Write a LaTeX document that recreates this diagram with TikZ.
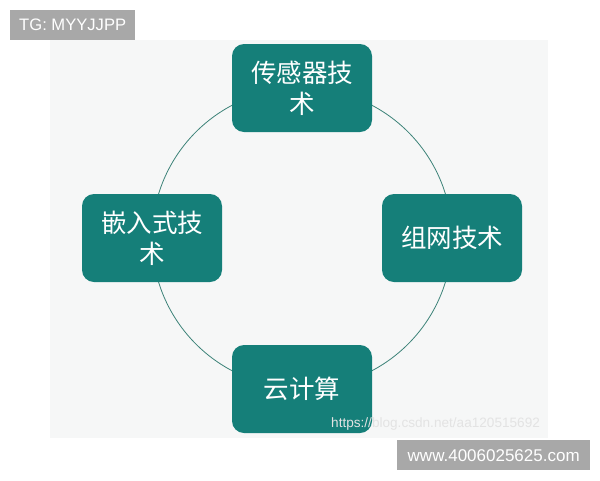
\documentclass[tikz,border=0pt]{standalone}
\usepackage{fontspec}
\setmainfont{Liberation Sans}
\newfontfamily\cjk{Noto Sans CJK SC}
\definecolor{teal1}{RGB}{21,127,121}
\definecolor{ring}{RGB}{60,130,120}
\definecolor{panel}{RGB}{246,247,247}
\definecolor{wm}{RGB}{168,168,168}
\begin{document}
\begin{tikzpicture}[x=1pt,y=-1pt,
  tbox/.style={fill=teal1,rounded corners=12pt,minimum width=140pt,minimum height=88pt,
    text=white,align=center,font=\cjk\fontsize{25.5}{31}\selectfont,inner sep=2pt,text width=125pt},
  wmbox/.style={fill=wm,text=white,inner sep=0pt,anchor=north west}]
\useasboundingbox (0,0) rectangle (600,480);
\fill[white] (0,0) rectangle (600,480);
\fill[panel] (50,40) rectangle (548,438);
\draw[ring,line width=0.8pt] (302,238) circle (150);
\node[tbox] (top) at (302,88) {传感器技\\术};
\node[tbox] (left) at (152,238) {嵌入式技\\术};
\node[tbox] (right) at (452,238) {组网技术};
\node[tbox] (bottom) at (302,389) {云计算};
\node[font=\fontsize{13.6}{15}\selectfont,text=white!78!gray,anchor=west,inner sep=0pt] (url) at (331,424) {https://blog.csdn.net/aa120515692};
\node[wmbox,font=\fontsize{16.6}{18}\selectfont,minimum width=125pt,minimum height=30pt] (tg) at (10,10) {TG: MYYJJPP};
\node[wmbox,font=\fontsize{17}{19}\selectfont,minimum width=193pt,minimum height=30pt] (www) at (397,440) {www.4006025625.com};
\end{tikzpicture}
\end{document}
